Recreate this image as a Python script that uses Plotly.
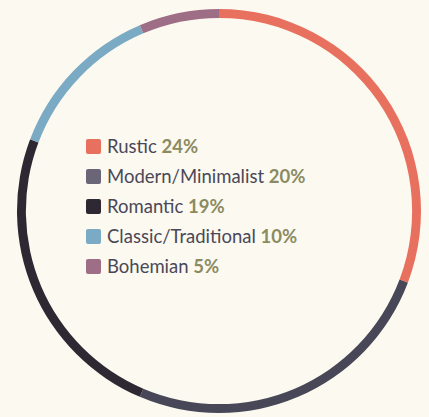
import plotly.graph_objects as go

categories = ["Rustic", "Modern/Minimalist", "Romantic", "Classic/Traditional", "Bohemian"]
values = [24, 20, 19, 10, 5]
ring_colors = ["#e8705f", "#474757", "#2e2833", "#7aaac4", "#9e6e86"]
swatch_colors = ["#e8705f", "#6b6677", "#2e2833", "#7aaac4", "#9e6e86"]

W, H = 429, 417
bg = "#fcf9f0"
cx, cy, r = 219, 211, 202

fig = go.Figure(go.Pie(
    labels=categories, values=values, sort=False, direction="clockwise", rotation=0,
    hole=0.956, textinfo="none", hoverinfo="label+percent",
    marker=dict(colors=ring_colors, line=dict(width=0)),
    domain=dict(x=[(cx - r) / W, (cx + r) / W], y=[(H - cy - r) / H, (H - cy + r) / H]),
    showlegend=False,
))

shapes = []
annotations = []
x0, y0, step, sw = 86, 146.5, 30, 15
for i, (cat, val, col) in enumerate(zip(categories, values, swatch_colors)):
    yc = y0 + i * step
    x1, x2 = x0, x0 + sw
    ya, yb = H - (yc - sw / 2), H - (yc + sw / 2)
    rr = 2
    path = (f"M{x1+rr},{ya} L{x2-rr},{ya} Q{x2},{ya} {x2},{ya-rr} L{x2},{yb+rr} Q{x2},{yb} {x2-rr},{yb} "
            f"L{x1+rr},{yb} Q{x1},{yb} {x1},{yb+rr} L{x1},{ya-rr} Q{x1},{ya} {x1+rr},{ya} Z")
    shapes.append(dict(type="path", xref="x", yref="y", path=path, fillcolor=col, line=dict(width=0), layer="above"))
    annotations.append(dict(
        x=105, y=H - yc + 1, xref="x", yref="y", xanchor="left", yanchor="middle", showarrow=False,
        text=f"{cat} <b><span style='color:#8b8b61'>{val}%</span></b>",
        font=dict(family="Lato", size=18.5, color="#4a4858"),
    ))

fig.update_layout(
    width=W, height=H, margin=dict(l=0, r=0, t=0, b=0),
    paper_bgcolor=bg, plot_bgcolor="rgba(0,0,0,0)",
    xaxis=dict(range=[0, W], visible=False, domain=[0, 1], fixedrange=True),
    yaxis=dict(range=[0, H], visible=False, domain=[0, 1], fixedrange=True),
    shapes=shapes, annotations=annotations,
)
fig.write_html("out.html", config={"displayModeBar": False},
               post_script="document.body.style.margin='0';document.body.style.background='#fcf9f0';document.body.style.overflow='hidden';")
